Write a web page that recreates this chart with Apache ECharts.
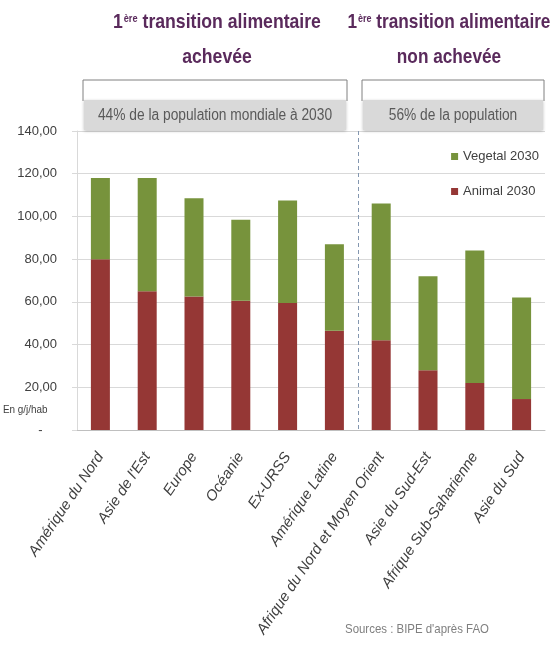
<!DOCTYPE html>
<html>
<head>
<meta charset="utf-8">
<script src="https://cdn.jsdelivr.net/npm/echarts@6/dist/echarts.min.js"></script>
<style>
  html, body { margin: 0; padding: 0; background: #fff; }
  #chart { width: 558px; height: 657px; }
</style>
</head>
<body>
<div id="chart"></div>
<script>
const categories = ['Amérique du Nord', "Asie de l'Est", 'Europe', 'Océanie', 'Ex-URSS', 'Amérique Latine',
  'Afrique du Nord et Moyen Orient', 'Asie du Sud-Est', 'Afrique Sub-Saharienne', 'Asie du Sud']
const animal = [80, 65, 62.5, 60.5, 59.5, 46.5, 42, 28, 22, 14.5]
const vegetal = [38, 53, 46, 38, 48, 40.5, 64, 44, 62, 47.5]
const yTicks = [0, 20, 40, 60, 80, 100, 120, 140]

const font = '"Liberation Sans", sans-serif'
const purple = '#5a2a5c'

const chart = echarts.init(document.getElementById('chart'))

// two-line heading, squeezed horizontally to look like the condensed original
function titleBlock(cx, line2, sx) {
  return {
    type: 'text', x: cx, y: 5, scaleX: sx,
    style: {
      text: '{n|1}{s|ère}{n| transition alimentaire}\n{n|' + line2 + '}',
      align: 'center', lineHeight: 35,
      rich: {
        n: { fontFamily: font, fontWeight: 'bold', fontSize: 21, fill: purple, lineHeight: 35 },
        s: { fontFamily: font, fontWeight: 'bold', fontSize: 11, fill: purple, lineHeight: 35, padding: [0, 0, 8, 1] }
      }
    }
  }
}

function band(x1, x2, label) {
  return [
    { type: 'polyline', shape: { points: [[x1, 101], [x1, 80], [x2, 80], [x2, 101]] },
      style: { stroke: '#808080', lineWidth: 1, fill: null } },
    { type: 'rect', shape: { x: x1 + 1, y: 100, width: x2 - x1 - 2, height: 30 },
      style: { fill: '#d9d9d9', shadowBlur: 3, shadowColor: 'rgba(0,0,0,0.25)', shadowOffsetY: 1 } },
    { type: 'text', x: (x1 + x2) / 2, y: 116, scaleX: 0.86,
      style: { text: label, align: 'center', verticalAlign: 'middle', fontFamily: font, fontSize: 16, fill: '#595959' } }
  ]
}

chart.setOption({
  animation: false,
  grid: { left: 77, right: 13, top: 131, bottom: 227 },
  legend: {
    orient: 'vertical', right: 14, top: 145, itemGap: 22,
    itemWidth: 7, itemHeight: 7, icon: 'rect',
    textStyle: { fontFamily: font, fontSize: 13, color: '#404040' },
    data: ['Vegetal 2030', 'Animal 2030']
  },
  xAxis: {
    type: 'category', data: categories,
    axisLine: { lineStyle: { color: '#bfbfbf' } },
    axisTick: { lineStyle: { color: '#bfbfbf' }, length: 5 },
    axisLabel: {
      rotate: 56, interval: 0, margin: 24, fontStyle: 'italic',
      fontFamily: font, fontSize: 15, color: '#404040'
    }
  },
  yAxis: {
    type: 'value', min: 0, max: 140, interval: 20,
    axisLine: { show: true, lineStyle: { color: '#d9d9d9' } },
    axisTick: { show: true, length: 5, lineStyle: { color: '#d9d9d9' } },
    splitLine: { lineStyle: { color: '#d9d9d9' } },
    axisLabel: {
      margin: 20, fontFamily: font, fontSize: 13, color: '#404040',
      formatter: v => v === 0 ? '-    ' : v.toFixed(2).replace('.', ',')
    }
  },
  series: [
    { name: 'Animal 2030', type: 'bar', stack: 't', data: animal, barWidth: 19,
      itemStyle: { color: '#953735' } },
    { name: 'Vegetal 2030', type: 'bar', stack: 't', data: vegetal, barWidth: 19,
      itemStyle: { color: '#77933c' } }
  ]
})

// separator between the two groups, placed from the category scale
const xa = chart.convertToPixel({ xAxisIndex: 0 }, categories[5])
const xb = chart.convertToPixel({ xAxisIndex: 0 }, categories[6])
const xSep = Math.round((xa + xb) / 2) + 0.5
const yTop = chart.convertToPixel({ yAxisIndex: 0 }, yTicks[yTicks.length - 1])
const yBot = chart.convertToPixel({ yAxisIndex: 0 }, yTicks[0])

chart.setOption({
  graphic: [
    titleBlock(217, 'achevée', 0.84),
    titleBlock(449, 'non achevée', 0.82),
    ...band(83, 347, '44% de la population mondiale à 2030'),
    ...band(362, 544, '56% de la population'),
    { type: 'line', shape: { x1: xSep, y1: yTop, x2: xSep, y2: yBot },
      style: { stroke: '#8497b0', lineWidth: 1, lineDash: [4, 3] } },
    { type: 'text', x: 3, y: 404, scaleX: 0.9,
      style: { text: 'En g/j/hab', fontFamily: font, fontSize: 11, fill: '#404040' } },
    { type: 'text', x: 345, y: 623, scaleX: 0.88,
      style: { text: "Sources : BIPE d'après FAO", fontFamily: font, fontSize: 13, fill: '#7f7f7f' } }
  ]
})
</script>
</body>
</html>
